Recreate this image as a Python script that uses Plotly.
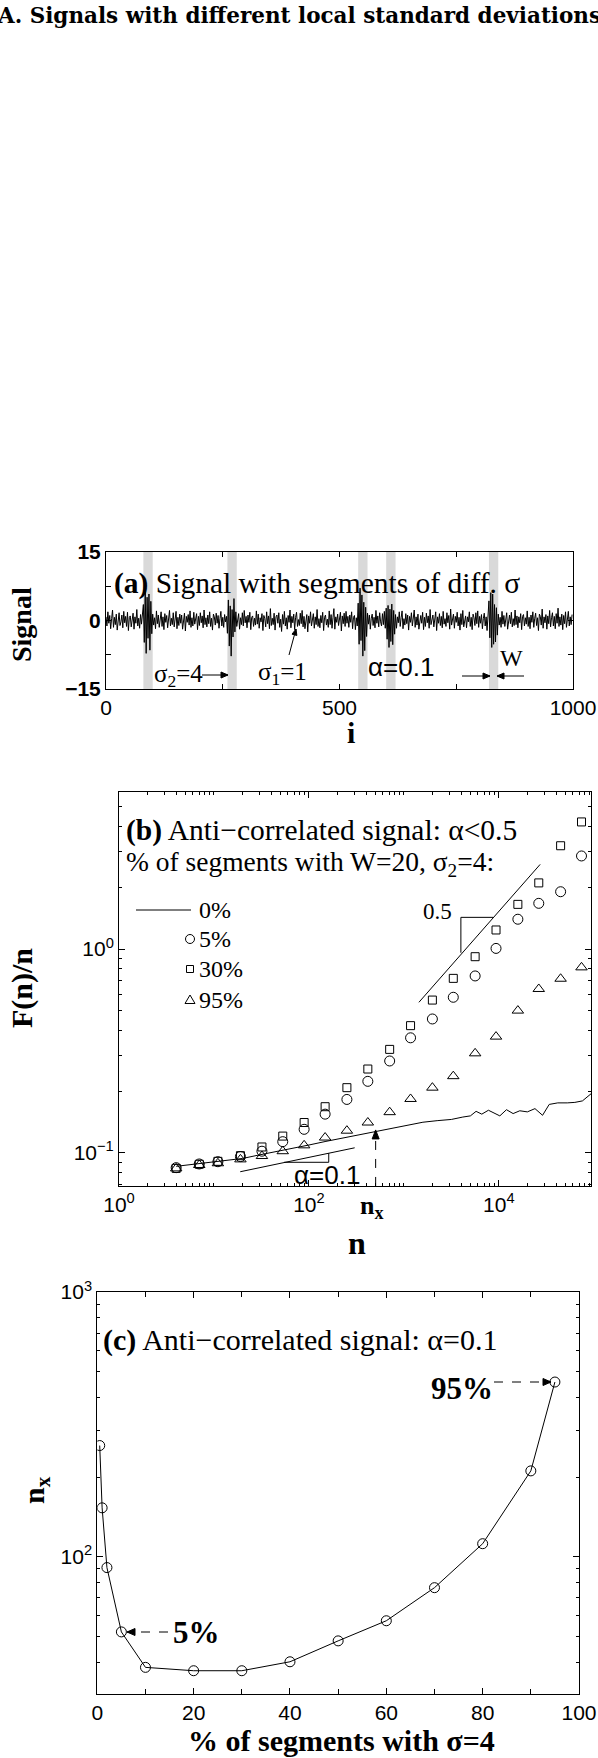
import math
import plotly.graph_objects as go

W, H = 598, 1758
SERIF = "Liberation Serif"
SANS = "Liberation Sans"


def px(x):
    return x / W


def py(y):
    return 1 - y / H


# ---------------- Panel (a): signal ----------------
sig_x = list(range(0, 1000, 2))
sig_y = [
    0.8, -1.2, 1.9, -0.6, 1.1, -1.8, 0.4, 2.3, -1.5, 0.7,
    -0.9, 1.4, -2.1, 0.6, 1.7, -1.1, -0.3, 1.2, -1.6, 2.0,
    -0.5, 0.9, -1.3, 1.8, -2.2, 0.7, 1.0, -1.4, 0.3, 1.6,
    -1.9, 0.8, -0.6, 2.4, -1.2, 0.5, -1.7, 1.3, -0.8, 1.1,
    3.5, -4.8, 6.2, -7.2, 5.1, -3.9, 5.8, -6.5, 4.2, -2.9,
    1.4, -1.0, 0.6, -1.8, 2.1, -0.7, 1.2, -1.5, 0.4, 1.9,
    -1.3, 0.8, -2.0, 1.5, -0.4, 1.1, -1.6, 0.9, 2.2, -1.2,
    0.5, -0.9, 1.7, -1.4, 0.3, 2.0, -1.8, 0.7, -1.1, 1.4,
    -0.6, 1.2, -1.9, 0.8, 1.6, -2.3, 0.9, -0.4, 1.3, -1.0,
    2.1, -1.5, 0.6, -1.2, 1.8, -0.8, 0.4, 1.5, -2.0, 0.9,
    -1.1, 1.7, -0.5, 1.0, -1.6, 2.3, -0.9, 0.6, -1.4, 1.2,
    -0.7, 1.9, -1.3, 0.5, -2.1, 1.4, 0.8, -1.0, 1.6, -0.6,
    1.1, -1.7, 0.4, 2.0, -1.2, 0.7, -1.5, 1.3, -0.3, 0.9,
    -2.8, 4.5, -5.6, 3.2, -7.8, 2.4, -3.6, 4.8, -2.5, 1.9,
    -1.3, 0.8, 1.5, -1.9, 0.6, -0.9, 1.7, -1.2, 2.2, -0.5,
    0.9, -1.6, 1.2, -0.4, 1.8, -2.0, 0.7, 1.0, -1.3, 0.5,
    -1.0, 2.1, -0.8, 1.4, -1.7, 0.6, -0.3, 1.5, -2.2, 1.1,
    0.4, -1.4, 1.9, -0.7, 1.0, -1.8, 2.6, -1.1, 0.5, -0.9,
    1.6, -2.1, 0.8, 1.2, -0.6, 1.7, -1.5, 0.3, -2.4, 1.3,
    -0.8, 2.0, -1.2, 0.6, -1.9, 1.1, -0.4, 2.3, -1.6, 0.9,
    -0.5, 1.4, -2.0, 0.7, 1.8, -1.3, 0.2, -1.1, 1.6, -0.7,
    2.2, -1.4, 0.9, -1.8, 0.5, 1.3, -2.5, 1.0, -0.6, 1.9,
    -1.2, 0.6, 1.5, -1.7, 0.8, -0.9, 2.4, -1.3, 0.4, -1.6,
    1.1, -0.5, 1.8, -2.2, 0.7, 1.2, -1.0, 0.3, -1.5, 2.1,
    -0.9, 1.3, -1.7, 0.6, 2.6, -1.9, 0.8, -0.4, 1.4, -1.1,
    0.5, 1.8, -2.3, 1.0, -0.7, 1.6, -1.3, 2.0, -0.6, 0.9,
    -1.5, 1.2, -0.4, 1.9, -1.8, 0.7, 1.1, -2.0, 0.6, -1.2,
    3.8, -5.2, 7.1, -4.4, 5.6, -7.8, 4.0, -6.6, 2.9, -3.5,
    1.6, -0.8, 1.2, -1.9, 0.5, 1.4, -1.1, 0.7, -1.6, 2.2,
    -0.6, 1.0, -1.4, 1.7, -0.3, -1.2, 1.5, -0.9, 2.0, -1.7,
    2.7, -4.1, 3.3, -5.9, 2.5, -4.6, 3.6, -5.3, 2.2, -3.0,
    1.3, -1.7, 0.8, -0.5, 1.9, -1.3, 0.6, 2.1, -1.8, 0.4,
    -1.0, 1.5, -0.7, 1.2, -2.1, 0.9, -0.4, 1.7, -1.2, 0.6,
    2.3, -1.5, 0.8, -1.0, 1.4, -1.9, 0.5, 1.1, -0.6, 1.8,
    -2.0, 0.7, -1.3, 1.6, -0.5, 1.0, -1.7, 2.4, -0.9, 0.3,
    1.2, -1.4, 0.6, 1.9, -2.2, 0.8, -0.6, 1.5, -1.1, 0.9,
    -1.6, 2.0, -0.8, 0.4, -1.3, 1.7, -0.5, 1.1, -1.9, 2.5,
    -1.0, 0.6, 1.4, -1.7, 0.9, -0.4, 1.8, -1.2, 0.7, -2.1,
    1.5, -0.9, 2.2, -1.4, 0.5, 1.0, -1.6, 0.8, -0.3, 1.9,
    -1.3, 0.7, -2.0, 1.4, 0.6, -1.1, 1.7, -0.7, 2.1, -1.5,
    0.9, -0.6, 1.3, -1.8, 0.4, 1.6, -1.2, 0.8, -2.2, 1.1,
    4.3, -3.8, 6.1, -5.9, 5.8, -5.2, 3.5, -4.7, 2.8, -3.2,
    1.4, -1.0, 0.7, -1.5, 2.0, -0.8, 1.1, -1.3, 0.5, 1.7,
    -1.9, 0.6, 1.2, -0.7, 1.8, -1.4, 0.4, -1.1, 2.3, -0.9,
    1.0, -1.6, 0.8, -0.5, 1.5, -2.0, 0.9, 1.3, -1.2, 0.6,
    -0.8, 2.1, -1.3, 0.7, -1.8, 1.2, -0.4, 1.9, -1.5, 0.5,
    1.6, -1.1, 0.6, -2.2, 1.4, 0.9, -1.0, 2.5, -1.7, 0.8,
    -0.5, 1.3, -1.9, 1.0, -0.7, 2.2, -1.4, 0.6, 1.7, -1.2,
    0.9, -1.8, 1.5, -0.6, 2.7, -1.3, 0.8, -1.0, 1.4, -2.0,
    1.1, -0.7, 1.9, -1.5, 0.6, 2.0, -1.2, 0.8, -0.9, 1.3,
]
band_start = [80, 260, 540, 600, 820]
band_end = [100, 280, 560, 620, 840]

# ---------------- Panel (b): F(n)/n ----------------
n_pts = [4, 7, 11, 19, 32, 53, 89, 148, 251, 417, 708, 1175, 1995, 3311,
         5623, 9333, 15849, 26303, 44668, 74131]
f_5pct = [0.0847, 0.0883, 0.0906, 0.096, 0.102, 0.1136, 0.1306, 0.155, 0.183,
          0.2245, 0.2825, 0.367, 0.454, 0.58, 0.738, 1.007, 1.40, 1.675, 1.91, 2.86]
f_30pct = [0.084, 0.088, 0.091, 0.097, 0.107, 0.121, 0.141, 0.1686, 0.209,
           0.258, 0.322, 0.421, 0.562, 0.718, 0.917, 1.24, 1.656, 2.11, 3.21, 4.2]
f_95pct = [0.084, 0.0873, 0.089, 0.093, 0.0966, 0.102, 0.109, 0.119, 0.1286,
           0.141, 0.1585, 0.184, 0.209, 0.238, 0.308, 0.372, 0.499, 0.637, 0.715, 0.813]
n_line = [4, 6, 9, 13.5, 20, 30, 45, 68, 100, 151, 224, 339, 501, 759, 1122,
          1585, 2239, 3162, 4169, 5012, 5754, 6607, 7762, 8913, 10233, 12023,
          14125, 16596, 19953, 23988, 28840, 33884, 41687, 52481, 63096, 75858, 93325]
f_0pct = [0.086, 0.088, 0.090, 0.092, 0.094, 0.0978, 0.1014, 0.1054, 0.1094,
          0.114, 0.1183, 0.123, 0.1276, 0.1327, 0.1377, 0.1415, 0.144, 0.146,
          0.150, 0.152, 0.160, 0.155, 0.162, 0.157, 0.152, 0.163, 0.156, 0.161,
          0.159, 0.165, 0.153, 0.173, 0.176, 0.176, 0.177, 0.180, 0.195]
legend_labels = ["0%", "5%", "30%", "95%"]
slope05_n = [1439, 27200]
slope05_f = [0.548, 2.60]
slope01_n = [18.9, 303]
slope01_f = [0.0809, 0.106]
n_cross = 504
f_cross = 0.1297

# ---------------- Panel (c): n_x ----------------
pct = [0.5, 1, 2, 5, 10, 20, 30, 40, 50, 60, 70, 80, 90, 95]
nx = [263, 153, 91, 52, 38.2, 37.1, 37.1, 40.1, 48.1, 57.3, 76.4, 112, 211, 457]

fig = go.Figure()

# (a)
fig.add_trace(go.Scatter(x=sig_x, y=sig_y, mode="lines",
                         line=dict(color="black", width=1), xaxis="x", yaxis="y"))
# (b)
fig.add_trace(go.Scatter(x=n_line, y=f_0pct, mode="lines",
                         line=dict(color="black", width=1), xaxis="x2", yaxis="y2"))
fig.add_trace(go.Scatter(x=n_pts, y=f_5pct, mode="markers",
                         marker=dict(symbol="circle-open", size=10, color="black",
                                     line=dict(width=1, color="black")),
                         xaxis="x2", yaxis="y2"))
fig.add_trace(go.Scatter(x=n_pts, y=f_30pct, mode="markers",
                         marker=dict(symbol="square-open", size=8, color="black",
                                     line=dict(width=1, color="black")),
                         xaxis="x2", yaxis="y2"))
fig.add_trace(go.Scatter(x=n_pts, y=f_95pct, mode="markers",
                         marker=dict(symbol="triangle-up-open", size=10, color="black",
                                     line=dict(width=1, color="black")),
                         xaxis="x2", yaxis="y2"))
fig.add_trace(go.Scatter(x=slope05_n, y=slope05_f, mode="lines",
                         line=dict(color="black", width=1), xaxis="x2", yaxis="y2"))
fig.add_trace(go.Scatter(x=slope01_n, y=slope01_f, mode="lines",
                         line=dict(color="black", width=1), xaxis="x2", yaxis="y2"))
# (c)
fig.add_trace(go.Scatter(x=pct, y=nx, mode="lines+markers",
                         line=dict(color="black", width=1),
                         marker=dict(symbol="circle-open", size=10, color="black",
                                     line=dict(width=1, color="black")),
                         xaxis="x3", yaxis="y3"))

shapes = []
for s, e in zip(band_start, band_end):
    shapes.append(dict(type="rect", xref="x", yref="y domain", x0=s, x1=e, y0=0, y1=1,
                       fillcolor="#d9d9d9", line=dict(width=0), layer="below"))


def _ln(x0, y0, x1, y1, dash="solid", xref="x2", yref="y2"):
    return dict(type="line", xref=xref, yref=yref, x0=x0, y0=y0, x1=x1, y1=y1,
                line=dict(color="black", width=1, dash=dash))


def pline(x0, y0, x1, y1, dash="solid"):
    shapes.append(dict(type="line", xref="paper", yref="paper", x0=px(x0), y0=py(y0),
                       x1=px(x1), y1=py(y1), line=dict(color="black", width=1, dash=dash)))


def phead(xh, yh, tx, ty, L=7.0, w=3.0):
    """filled arrow head at (xh, yh) pointing away from (tx, ty); page pixels"""
    dx, dy = xh - tx, yh - ty
    d = math.hypot(dx, dy)
    ux, uy = dx / d, dy / d
    bx, by = xh - L * ux, yh - L * uy
    p1 = (bx - w * uy, by + w * ux)
    p2 = (bx + w * uy, by - w * ux)
    path = "M {} {} L {} {} L {} {} Z".format(px(xh), py(yh), px(p1[0]), py(p1[1]),
                                             px(p2[0]), py(p2[1]))
    shapes.append(dict(type="path", xref="paper", yref="paper", path=path,
                       fillcolor="black", line=dict(color="black", width=1)))


def parrow(x0, y0, x1, y1, dash="solid", L=7.0, w=3.0):
    pline(x0, y0, x1, y1, dash)
    phead(x1, y1, x0, y0, L, w)


# slope triangles in (b)
shapes.append(_ln(3981, 0.959, 3981, 1.43))
shapes.append(_ln(3981, 1.43, 8710, 1.43))
shapes.append(_ln(54.6, 0.090, 161.6, 0.090))
shapes.append(_ln(161.6, 0.090, 161.6, 0.0999))
# n_x dashed marker with arrow head anchored at the crossing point
shapes.append(_ln(n_cross, 0.0689, n_cross, 0.122, dash="dash"))
shapes.append(dict(type="path", xref="x2", yref="y2", xsizemode="pixel", ysizemode="pixel",
                   xanchor=n_cross, yanchor=f_cross, path="M 0 0 L -3.5 -9 L 3.5 -9 Z",
                   fillcolor="black", line=dict(color="black", width=1)))
# legend in (b)
pline(136, 910, 191, 910)
leg_y = [910, 939, 969, 1000]
r = 4.5
shapes.append(dict(type="circle", xref="paper", yref="paper", x0=px(190 - r), x1=px(190 + r),
                   y0=py(leg_y[1] + r), y1=py(leg_y[1] - r), line=dict(color="black", width=1)))
shapes.append(dict(type="rect", xref="paper", yref="paper", x0=px(190 - 3.5), x1=px(190 + 3.5),
                   y0=py(leg_y[2] + 3.5), y1=py(leg_y[2] - 3.5), line=dict(color="black", width=1)))
tri = "M {} {} L {} {} L {} {} Z".format(px(185), py(leg_y[3] + 3.5), px(195), py(leg_y[3] + 3.5),
                                        px(190), py(leg_y[3] - 5))
shapes.append(dict(type="path", xref="paper", yref="paper", path=tri,
                   line=dict(color="black", width=1)))

# arrows in (a)
parrow(202, 675, 228, 675)
parrow(289, 655, 296, 629, L=6, w=2.5)
parrow(462, 676, 490, 676)
parrow(524, 676, 497, 676)
# dashed arrows in (c)
parrow(494, 1382, 551, 1382, dash="dash", L=8, w=3.5)
parrow(168, 1632, 127, 1632, dash="dash", L=8, w=3.5)

ann = []


def text(x, y, t, size, family=SERIF, anchor="center", angle=0, bold=False):
    if bold:
        t = "<b>" + t + "</b>"
    ann.append(dict(x=px(x), y=py(y), xref="paper", yref="paper", text=t, showarrow=False,
                    xanchor=anchor, yanchor="middle", textangle=angle, borderpad=0,
                    font=dict(family=family, size=size, color="black")))


# main title
text(-4, 15, "A. Signals with different local standard deviations", 21.5,
     family="DejaVu Serif", anchor="left", bold=True)

# (a)
text(113, 583, "<b>(a)</b> Signal with segments of diff. σ", 29.5, anchor="left")
text(178, 675, "σ<sub>2</sub>=4", 25)
text(282, 673, "σ<sub>1</sub>=1", 25)
text(401, 667, "α=0.1", 26, family=SANS)
text(511, 658, "W", 24)
text(22, 625, "Signal", 28, angle=-90, bold=True)
text(351, 733, "i", 30, bold=True)

# (b)
text(125, 830, "<b>(b)</b> Anti−correlated signal: α&lt;0.5", 29.5, anchor="left")
text(125, 863, "% of segments with W=20, σ<sub>2</sub>=4:", 27.5, anchor="left")
for lab, yy in zip(legend_labels, leg_y):
    text(198, yy, lab, 24, anchor="left")
text(437, 911, "0.5", 23)
text(327, 1175, "α=0.1", 26, family=SANS)
text(372, 1207, "n<sub>x</sub>", 26, bold=True)
text(22, 988, "F(n)/n", 30, angle=-90, bold=True)
text(357, 1243, "n", 32, bold=True)

# (c)
text(102, 1340, "<b>(c)</b> Anti−correlated signal: α=0.1", 30, anchor="left")
text(462, 1388, "95%", 31, bold=True)
text(196, 1632, "5%", 31, bold=True)
text(36, 1490, "n<sub>x</sub>", 30, angle=-90, bold=True)
text(341, 1740, "% of segments with σ=4", 30, bold=True)

axis_common = dict(showline=True, linecolor="black", linewidth=1, mirror="allticks",
                   ticks="inside", ticklen=6, tickwidth=1, tickcolor="black",
                   showgrid=False, zeroline=False, automargin=False,
                   tickfont=dict(family=SANS, size=21, color="black"))

minor_log_b_x = [k * 10 ** d for d in range(0, 5) for k in range(2, 11) if k * 10 ** d < 100000]
minor_log_b_y = [0.07, 0.08, 0.09, 0.2, 0.3, 0.4, 0.5, 0.6, 0.7, 0.8, 0.9, 2, 3, 4, 5]
minor_log_c_y = [40, 50, 60, 70, 80, 90, 200, 300, 400, 500, 600, 700, 800, 900]


def minor(vals, ln=3):
    return dict(tickmode="array", tickvals=vals, ticks="inside", ticklen=ln,
                tickcolor="black", tickwidth=1)


fig.update_layout(
    width=W, height=H, margin=dict(l=0, r=0, t=0, b=0, pad=0, autoexpand=False),
    paper_bgcolor="white", plot_bgcolor="white", showlegend=False,
    shapes=shapes, annotations=ann,
    xaxis=dict(axis_common, domain=[px(106), px(573)], range=[0, 1000], anchor="y",
               tickmode="array", tickvals=[0, 500, 1000], ticktext=["0", "500", "1000"],
               ticklen=5, minor=minor([250, 750], 5)),
    yaxis=dict(axis_common, domain=[py(689), py(552)], range=[-15, 15], anchor="x",
               tickmode="array", tickvals=[-15, 0, 15],
               ticktext=["<b>−15</b>", "<b>0</b>", "<b>15</b>"], ticklen=5,
               minor=minor([-7.5, 7.5], 5)),
    xaxis2=dict(axis_common, type="log", domain=[px(119), px(591)], range=[0, 4.97],
                anchor="y2", tickmode="array", tickvals=[1, 100, 10000],
                ticktext=["10<sup>0</sup>", "10<sup>2</sup>", "10<sup>4</sup>"],
                minor=minor(minor_log_b_x)),
    yaxis2=dict(axis_common, type="log", domain=[py(1186), py(792)], range=[-1.162, 0.77],
                anchor="x2", tickmode="array", tickvals=[0.1, 1],
                ticktext=["10<sup>−1</sup>", "10<sup>0</sup>"],
                minor=minor(minor_log_b_y)),
    xaxis3=dict(axis_common, domain=[px(97.3), px(579)], range=[0, 100], anchor="y3",
                tickmode="array", tickvals=[0, 20, 40, 60, 80, 100],
                ticktext=["0", "20", "40", "60", "80", "100"],
                minor=minor([10, 30, 50, 70, 90], 5)),
    yaxis3=dict(axis_common, type="log", domain=[py(1694), py(1292)],
                range=[math.log10(30.3), 3], anchor="x3", tickmode="array",
                tickvals=[100, 1000], ticktext=["10<sup>2</sup>", "10<sup>3</sup>"],
                minor=minor(minor_log_c_y)),
)

fig.write_html("out.html", config={"displayModeBar": False},
               post_script="document.body.style.margin='0px';document.body.style.padding='0px';")
